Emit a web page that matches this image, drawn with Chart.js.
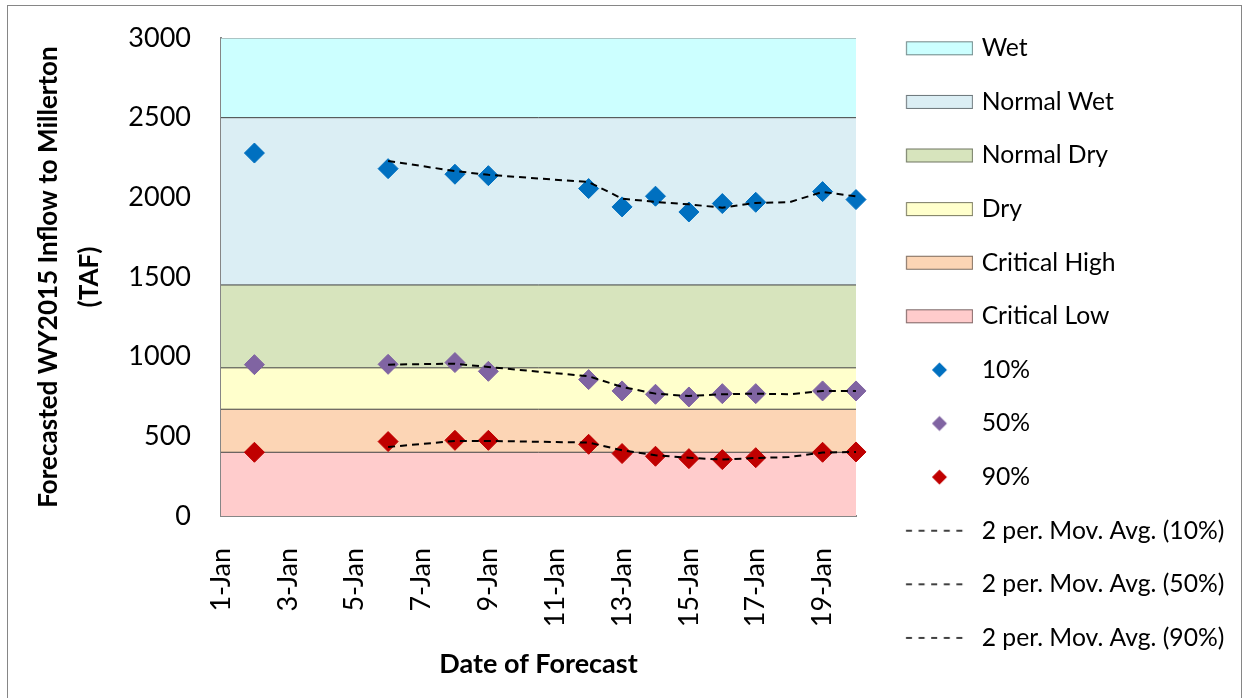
<!DOCTYPE html>
<html>
<head>
<meta charset="utf-8">
<script src="https://cdn.jsdelivr.net/npm/chart.js@4.4.1/dist/chart.umd.min.js"></script>
<style>
  html, body { margin: 0; padding: 0; background: #ffffff; overflow: hidden; }
  #wrap { position: relative; width: 1244px; height: 698px; }
  #frame { position: absolute; left: 7px; top: 5px; width: 1233px; height: 720px;
           border: 1px solid #868686; pointer-events: none; }
  canvas { display: block; }
</style>
</head>
<body>
<div id="wrap">
  <canvas id="chart" width="1244" height="698"></canvas>
  <div id="frame"></div>
</div>
<script>
// Forecast issue dates (day of January) and forecast inflow, TAF
const forecastDays = [2, 6, 8, 9, 12, 13, 14, 15, 16, 17, 19, 20];
const exceed10 = [2278, 2180, 2145, 2136, 2055, 1940, 2007, 1908, 1961, 1969, 2036, 1986];
const exceed50 = [950, 952, 963, 908, 856, 785, 764, 747, 768, 768, 785, 785];
const exceed90 = [400, 467, 475, 475, 450, 392, 375, 360, 354, 366, 400, 402];

// 2-period moving-average traces
const avgDays = [6, 8, 9, 12, 13, 14, 15, 16, 17, 18, 19, 20];
const avg10 = [2228, 2165, 2141, 2096, 1992, 1971, 1956, 1935, 1965, 1969, 2034, 2006];
const avg50 = [950, 956, 935, 877, 810, 768, 753, 764, 768, 764, 785, 785];
const avg90 = [433, 471, 471, 461, 412, 381, 366, 354, 364, 370, 398, 402];

// Water-year type bands, listed top to bottom with their upper bound (TAF)
const bandNames = ['Wet', 'Normal Wet', 'Normal Dry', 'Dry', 'Critical High', 'Critical Low'];
const bandTops = [3000, 2500, 1450, 930, 670, 400];

// Axis ticks
const dayFirst = 1;
const dayLast = 20;
const tickDays = [1, 3, 5, 7, 9, 11, 13, 15, 17, 19];
const tickLabels = ['1-Jan', '3-Jan', '5-Jan', '7-Jan', '9-Jan', '11-Jan', '13-Jan', '15-Jan', '17-Jan', '19-Jan'];
const yTickValues = [0, 500, 1000, 1500, 2000, 2500, 3000];

// ---- styling ----
const FONT = 'Lato';
const BAND_FILL = ['#CCFFFF', '#DBEEF4', '#D7E4BD', '#FFFFCC', '#FCD5B5', '#FFCCCC'];
const BAND_EDGE = ['#8a8a8a', '#404040', '#404040', '#404040', '#404040', '#404040'];
const SWATCH_EDGE = ['#6f8585', '#6a7478', '#6e7560', '#77775f', '#7a6a5e', '#7a6262'];
const SERIES_COLORS = ['#0070C0', '#8064A2', '#C00000'];

const PLOT = { left: 221, top: 38, right: 856, bottom: 516 };
const CANVAS_W = 1244, CANVAS_H = 698;

// legend geometry
const LEG_FONT = 24.7;
const LEG_STEP = 53.6;
const LEG_PAD = LEG_STEP - LEG_FONT;
const LEG_FIRST_CENTER = 48.3;
const LEG_TOP = LEG_FIRST_CENTER - LEG_FONT / 2 - LEG_PAD;
const LEG_TEXT_X = 981.7;
const SW_LEFT = 906, SW_RIGHT = 973;

const itemX = PLOT.right + LEG_PAD;
const markW = LEG_TEXT_X - LEG_FONT / 2 - itemX;
const markCx = itemX + markW / 2;
const imgHalf = Math.ceil(SW_RIGHT - markCx);
const SW = { imgW: imgHalf * 2, imgH: 22, left: imgHalf - (markCx - SW_LEFT), width: SW_RIGHT - SW_LEFT };

function makeSwatch(paint) {
  const c = document.createElement('canvas');
  c.width = SW.imgW;
  c.height = SW.imgH;
  const g = c.getContext('2d');
  paint(g, SW.left, SW.imgH / 2);
  return c;
}

function bandSwatch(i) {
  return makeSwatch((g, x, cy) => {
    g.fillStyle = BAND_FILL[i];
    g.strokeStyle = SWATCH_EDGE[i];
    g.lineWidth = 1;
    g.fillRect(x, cy - 7, SW.width, 14);
    g.strokeRect(x + 0.5, cy - 6.5, SW.width - 1, 13);
  });
}

function diamondSwatch(color) {
  return makeSwatch((g, x, cy) => {
    const cx = x + SW.width / 2, r = 7.5;
    g.fillStyle = color;
    g.beginPath();
    g.moveTo(cx - r, cy); g.lineTo(cx, cy - r); g.lineTo(cx + r, cy); g.lineTo(cx, cy + r);
    g.closePath();
    g.fill();
  });
}

function dashSwatch() {
  return makeSwatch((g, x, cy) => {
    g.strokeStyle = '#000000';
    g.lineWidth = 1.6;
    g.setLineDash([6, 6.6]);
    g.beginPath();
    g.moveTo(x, cy); g.lineTo(x + 61, cy);
    g.stroke();
  });
}

function points(xs, ys) {
  return xs.map((d, i) => ({ x: d, y: ys[i] }));
}

function buildChart() {
  const bandSets = bandNames.map((name, i) => ({
    label: name,
    data: [{ x: dayFirst, y: bandTops[i] }, { x: dayLast, y: bandTops[i] }],
    backgroundColor: BAND_FILL[i],
    borderColor: BAND_EDGE[i],
    borderWidth: 1,
    pointRadius: 0,
    pointHoverRadius: 0,
    fill: i < bandNames.length - 1 ? '+1' : 'origin',
    order: 2,
    legendMark: bandSwatch(i)
  }));

  const seriesValues = [exceed10, exceed50, exceed90];
  const seriesNames = ['10%', '50%', '90%'];
  const markerSets = seriesValues.map((vals, k) => ({
    label: seriesNames[k],
    data: points(forecastDays, vals),
    showLine: false,
    pointStyle: 'rectRot',
    pointRadius: 10,
    pointHoverRadius: 10,
    pointBackgroundColor: SERIES_COLORS[k],
    pointBorderColor: SERIES_COLORS[k],
    pointBorderWidth: 1,
    backgroundColor: SERIES_COLORS[k],
    borderColor: SERIES_COLORS[k],
    clip: false,
    order: 1,
    legendMark: diamondSwatch(SERIES_COLORS[k])
  }));

  const avgValues = [avg10, avg50, avg90];
  const avgSets = avgValues.map((vals, k) => ({
    label: '2 per. Mov. Avg. (' + seriesNames[k] + ')',
    data: points(avgDays, vals),
    borderColor: '#000000',
    borderWidth: 2,
    borderDash: [7, 5],
    pointRadius: 0,
    pointHoverRadius: 0,
    fill: false,
    tension: 0,
    order: 0,
    legendMark: dashSwatch()
  }));

  const datasets = [...bandSets, ...markerSets, ...avgSets];

  // The legend sits flush against the plot's right edge; reserve the rest as padding.
  const meas = document.createElement('canvas').getContext('2d');
  meas.font = LEG_FONT + 'px ' + FONT;
  const longest = Math.max(...datasets.map(d => meas.measureText(d.label).width));
  const legendWidth = LEG_PAD + markW + LEG_FONT / 2 + longest + 10;
  const padRight = CANVAS_W - PLOT.right - legendWidth;

  new Chart(document.getElementById('chart'), {
    type: 'line',
    data: { datasets },
    options: {
      responsive: false,
      animation: false,
      events: [],
      layout: { padding: { top: LEG_TOP, left: 0, right: padRight, bottom: 0 } },
      plugins: {
        filler: { drawTime: 'beforeDatasetsDraw' },
        tooltip: { enabled: false },
        title: {
          display: true,
          text: '',
          fullSize: false,
          font: { size: 10, lineHeight: 1 },
          padding: { top: PLOT.top - LEG_TOP - 10, bottom: 0 }
        },
        legend: {
          display: true,
          position: 'right',
          align: 'start',
          maxWidth: 600,
          labels: {
            usePointStyle: true,
            pointStyleWidth: markW,
            padding: LEG_PAD,
            color: '#000000',
            font: { family: FONT, size: LEG_FONT },
            generateLabels: (chart) => chart.data.datasets.map((ds, i) => ({
              text: ds.label,
              datasetIndex: i,
              pointStyle: ds.legendMark,
              fillStyle: 'rgba(0,0,0,0)',
              strokeStyle: 'rgba(0,0,0,0)',
              lineWidth: 0,
              fontColor: '#000000',
              textAlign: 'left',
              hidden: false
            }))
          }
        }
      },
      scales: {
        x: {
          type: 'linear',
          min: dayFirst,
          max: dayLast,
          afterBuildTicks: (s) => { s.ticks = tickDays.map(v => ({ value: v })); },
          afterFit: (s) => { s.height = CANVAS_H - PLOT.bottom; },
          ticks: {
            autoSkip: false,
            minRotation: 90,
            maxRotation: 90,
            padding: 42,
            color: '#000000',
            font: { family: FONT, size: 27 },
            callback: (v, i) => tickLabels[i]
          },
          grid: { drawOnChartArea: false, drawTicks: true, tickLength: -10, color: '#868686', lineWidth: 2 },
          border: { display: true, color: '#868686', width: 2 },
          title: {
            display: true,
            text: 'Date of Forecast',
            color: '#000000',
            font: { family: FONT, size: 27, weight: 'bold' },
            padding: { top: 0, bottom: 18 }
          }
        },
        y: {
          min: 0,
          max: 3000,
          afterBuildTicks: (s) => { s.ticks = yTickValues.map(v => ({ value: v })); },
          afterFit: (s) => { s.width = PLOT.left; },
          ticks: {
            padding: 0,
            color: '#000000',
            font: { family: FONT, size: 27 },
            callback: (v) => String(v)
          },
          // invisible tick marks keep the labels clear of the axis line
          grid: { drawOnChartArea: false, drawTicks: true, tickLength: 30, color: 'rgba(0,0,0,0)' },
          border: { display: true, color: '#868686', width: 2 },
          title: {
            display: true,
            text: ['Forecasted WY2015 Inflow to Millerton', '(TAF)'],
            color: '#000000',
            font: { family: FONT, size: 26, weight: 'bold', lineHeight: '41px' },
            padding: { top: 28, bottom: 0 }
          }
        }
      }
    }
  });
}

Promise.all([
  document.fonts.load('27px Lato'),
  document.fonts.load('bold 27px Lato')
]).then(buildChart, buildChart);
</script>
</body>
</html>
